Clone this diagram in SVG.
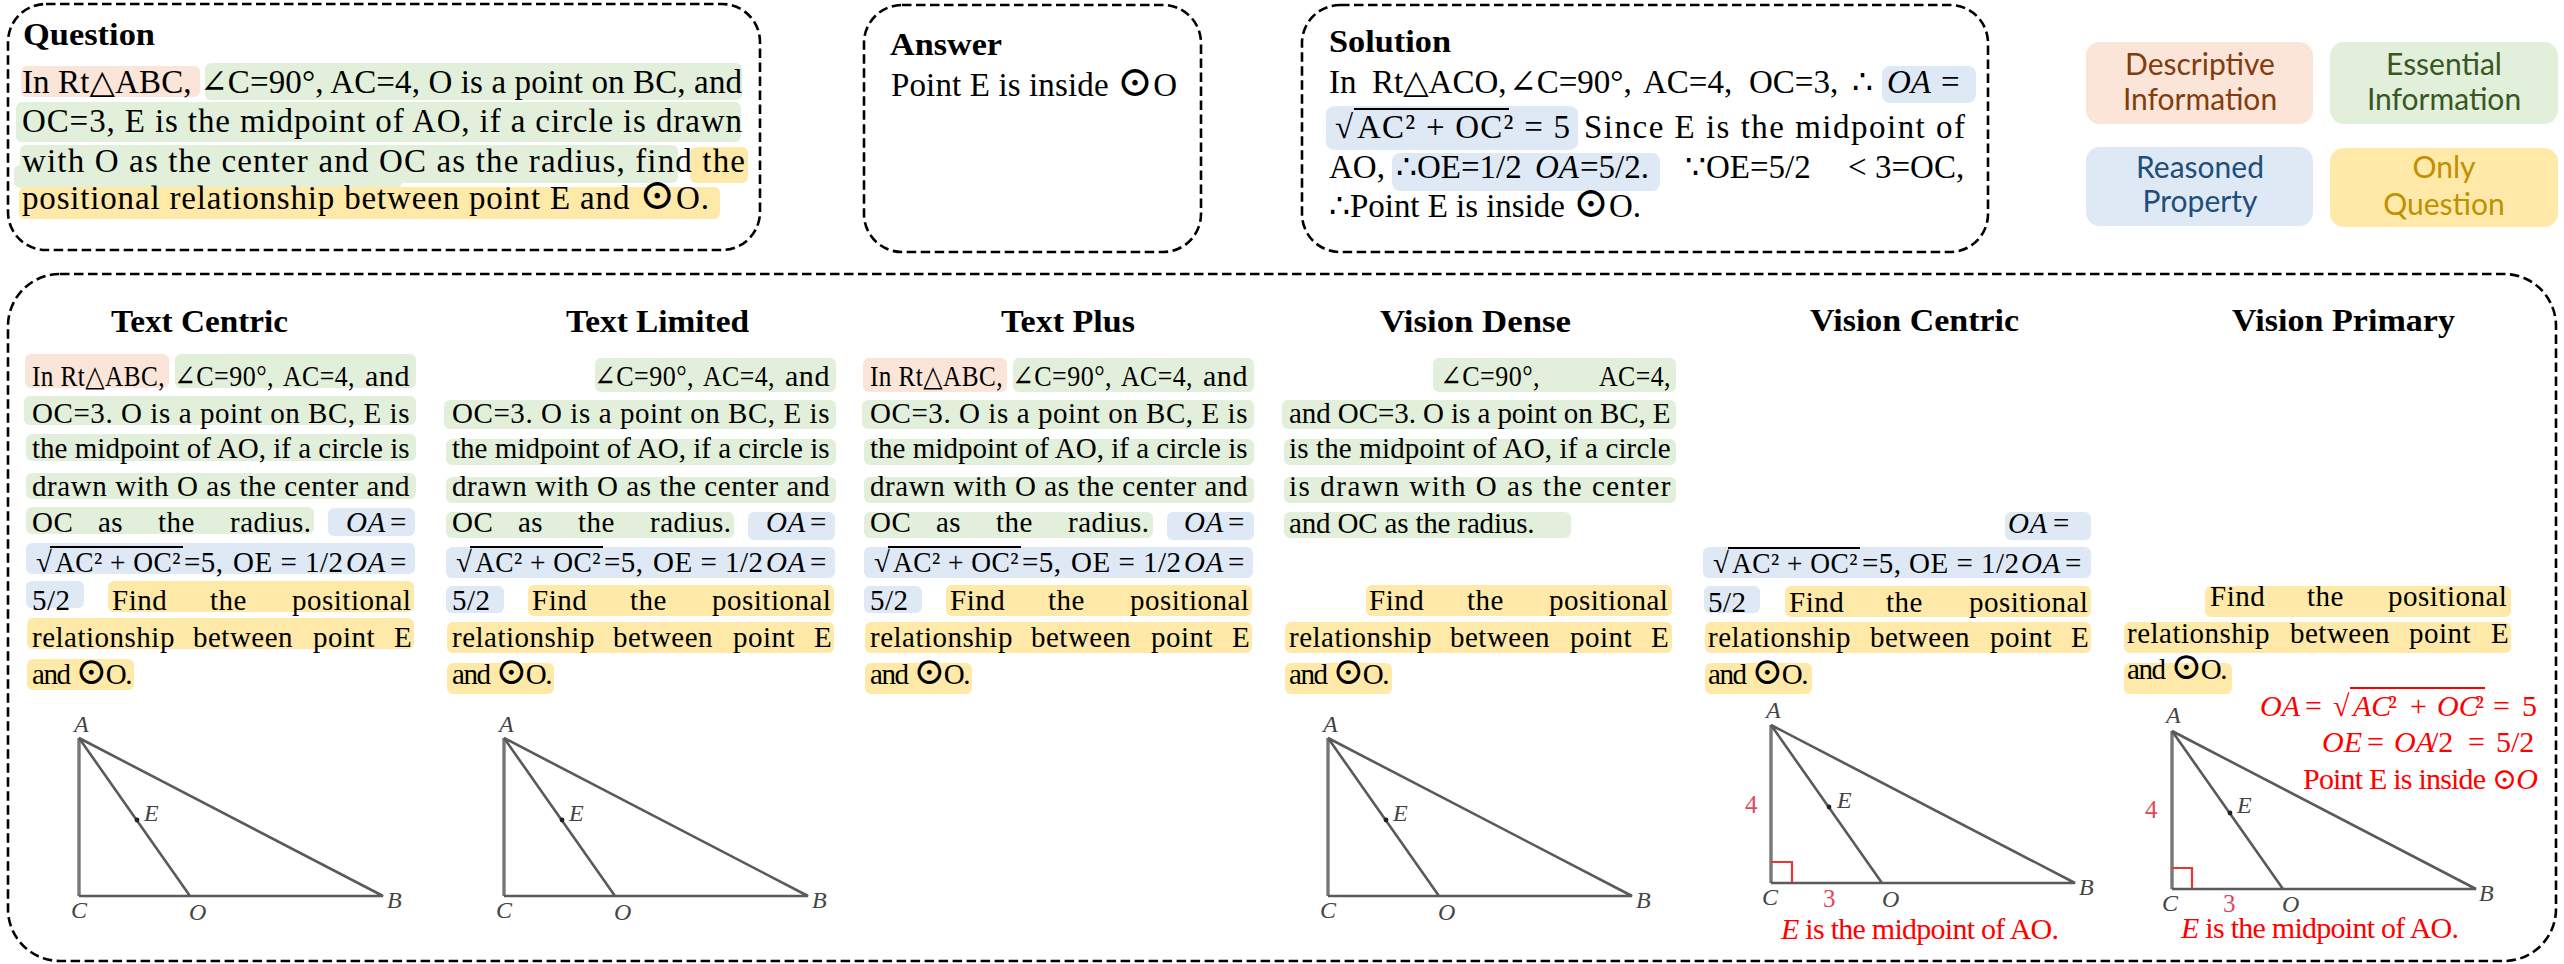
<svg xmlns="http://www.w3.org/2000/svg" width="2564" height="964" viewBox="0 0 2564 964">
<style>
text{font-family:"Liberation Serif","DejaVu Serif","DejaVu Sans",serif;fill:#000;white-space:pre}
.frame{fill:none;stroke:#000;stroke-width:2.6;stroke-dasharray:9.5 4.5}
.d{fill:#fbe4d8}.e{fill:#e2efda}.r{fill:#dee9f5}.q{fill:#fee9a9}
.head{font-size:32px;font-weight:bold}
.big{font-size:33px}
.t{font-size:29px;letter-spacing:.5px}
.i{font-style:italic}
.o{font-size:1.3em}
.leg{font-family:"Lato","Open Sans",sans-serif;font-size:30px;text-anchor:middle}
.lab{font-size:24px;font-style:italic;fill:#444}
.num{font-size:25px;fill:#e0475c}
.red,.red tspan{font-size:30px;fill:#f00}
.ac{stroke:#777;stroke-width:3.4;fill:none}
.tl{stroke:#5a5a5a;stroke-width:2.6;fill:none}
.ra{stroke:#e33;stroke-width:2.2;fill:none}
.bar{stroke:#000;stroke-width:2;fill:none}
.redbar{stroke:#f00;stroke-width:2;fill:none}
</style>
<defs>
<g id="triangle">
<path class="ac" d="M79 738V896"/>
<path class="tl" d="M79 896H383L79 738L190 896"/>
<circle cx="137" cy="820" r="2.4" fill="#222"/>
</g>
</defs>

<g id="question">
<rect class="frame" x="8" y="4" width="752" height="246" rx="38"/>
<rect class="d" x="21" y="66" width="179" height="31" rx="6"/>
<rect class="e" x="205" y="63" width="537" height="37" rx="6"/>
<rect class="e" x="16" y="102" width="725" height="40" rx="6"/>
<rect class="e" x="20" y="145" width="658" height="38" rx="6"/>
<rect class="e" x="14" y="165" width="388" height="23" rx="6"/>
<rect class="q" x="690" y="147" width="58" height="36" rx="6"/>
<rect class="q" x="19" y="187" width="701" height="32" rx="6"/>
<text class="head" x="23" y="45" textLength="132" lengthAdjust="spacingAndGlyphs">Question</text>
<text class="big" x="22" y="93" textLength="720">In Rt△ABC, ∠C=90°, AC=4, O is a point on BC, and</text>
<text class="big" x="22" y="132" textLength="720">OC=3, E is the midpoint of AO, if a circle is drawn</text>
<text class="big" x="22" y="172" textLength="723">with O as the center and OC as the radius, find the</text>
<text class="big" x="22" y="209" textLength="687">positional relationship between point E and <tspan class="o">⊙</tspan>O.</text>
</g>

<g id="answer">
<rect class="frame" x="864" y="5" width="337" height="247" rx="38"/>
<text class="head" x="890" y="55" textLength="112" lengthAdjust="spacingAndGlyphs">Answer</text>
<text class="big" x="891" y="96" textLength="286">Point E is inside <tspan class="o">⊙</tspan>O</text>
</g>

<g id="solution">
<rect class="frame" x="1302" y="5" width="686" height="247" rx="38"/>
<rect class="r" x="1882" y="66" width="94" height="37" rx="8"/>
<rect class="r" x="1326" y="106" width="252" height="44" rx="8"/>
<rect class="r" x="1392" y="153" width="268" height="38" rx="8"/>
<text class="head" x="1329" y="52" textLength="122" lengthAdjust="spacingAndGlyphs">Solution</text>
<text class="big" y="93"><tspan x="1329">In</tspan><tspan x="1372">Rt△ACO,</tspan><tspan x="1509">∠C=90°,</tspan><tspan x="1643">AC=4,</tspan><tspan x="1749">OC=3,</tspan><tspan x="1852">∴</tspan><tspan x="1887" class="i">OA</tspan><tspan x="1941">=</tspan></text>
<text class="big" x="1335" y="138">√</text>
<path class="bar" d="M1354 109H1509"/>
<text class="big" x="1357" y="138" textLength="213">AC² + OC² = 5</text>
<text class="big" x="1584" y="138" textLength="381">Since E is the midpoint of</text>
<text class="big" y="178"><tspan x="1329">AO,</tspan><tspan x="1396">∴OE=1/2</tspan><tspan x="1535" class="i">OA</tspan><tspan x="1580">=5/2.</tspan><tspan x="1685">∵OE=5/2</tspan><tspan x="1848">&lt;</tspan><tspan x="1875">3=OC,</tspan></text>
<text class="big" x="1329" y="217" textLength="312">∴Point E is inside <tspan class="o">⊙</tspan>O.</text>
</g>

<g id="legend-descriptive">
<rect class="d" x="2086" y="42" width="227" height="82" rx="14"/>
<text class="leg" x="2200" y="75" style="fill:#843c0c">Descriptive</text>
<text class="leg" x="2200" y="110" style="fill:#843c0c">Information</text>
</g>
<g id="legend-essential">
<rect class="e" x="2330" y="42" width="228" height="82" rx="14"/>
<text class="leg" x="2444" y="75" style="fill:#385723">Essential</text>
<text class="leg" x="2444" y="110" style="fill:#385723">Information</text>
</g>
<g id="legend-reasoned">
<rect class="r" x="2086" y="147" width="227" height="79" rx="14"/>
<text class="leg" x="2200" y="178" style="fill:#1f4e79">Reasoned</text>
<text class="leg" x="2200" y="212" style="fill:#1f4e79">Property</text>
</g>
<g id="legend-only">
<rect class="q" x="2330" y="148" width="228" height="79" rx="14"/>
<text class="leg" x="2444" y="178" style="fill:#bf9000">Only</text>
<text class="leg" x="2444" y="215" style="fill:#bf9000">Question</text>
</g>

<rect id="panel" class="frame" x="8" y="274" width="2548" height="687" rx="52"/>

<g id="text-centric">
<text class="head" x="111" y="332" textLength="177" lengthAdjust="spacingAndGlyphs">Text Centric</text>
<rect class="d" x="25" y="354" width="144" height="34" rx="6"/>
<rect class="e" x="175" y="354" width="241" height="34" rx="6"/>
<rect class="e" x="24" y="396" width="392" height="29" rx="6"/>
<rect class="e" x="26" y="434" width="390" height="27" rx="6"/>
<rect class="e" x="26" y="473" width="390" height="26" rx="6"/>
<rect class="e" x="26" y="507" width="288" height="27" rx="6"/>
<rect class="r" x="328" y="508" width="87" height="28" rx="6"/>
<rect class="r" x="26" y="543" width="389" height="31" rx="6"/>
<rect class="r" x="26" y="581" width="58" height="27" rx="6"/>
<rect class="q" x="108" y="581" width="306" height="31" rx="6"/>
<rect class="q" x="27" y="618" width="387" height="31" rx="6"/>
<rect class="q" x="27" y="659" width="107" height="31" rx="6"/>
<text class="t" x="32" y="386" textLength="133" lengthAdjust="spacingAndGlyphs">In Rt△ABC,</text>
<text class="t" x="174" y="386" textLength="100" lengthAdjust="spacingAndGlyphs">∠C=90°,</text>
<text class="t" x="283" y="386" textLength="72" lengthAdjust="spacingAndGlyphs">AC=4,</text>
<text class="t" x="365" y="386" textLength="45" lengthAdjust="spacingAndGlyphs">and</text>
<text class="t" x="32" y="423" textLength="378">OC=3. O is a point on BC, E is</text>
<text class="t" x="32" y="458" textLength="378">the midpoint of AO, if a circle is</text>
<text class="t" x="32" y="496" textLength="378">drawn with O as the center and</text>
<text class="t" y="532"><tspan x="32">OC</tspan><tspan x="98">as</tspan><tspan x="158">the</tspan><tspan x="230">radius.</tspan><tspan x="346" class="i">OA</tspan><tspan x="390">=</tspan></text>
<text class="t" x="36" y="572">√</text><path class="bar" d="M50 547H183"/>
<text class="t" x="55" y="572" textLength="126" lengthAdjust="spacingAndGlyphs">AC² + OC²</text>
<text class="t" y="572"><tspan x="184">=5,</tspan><tspan x="233">OE = 1/2</tspan><tspan x="346" class="i">OA</tspan><tspan x="390">=</tspan></text>
<text class="t" y="610"><tspan x="32">5/2</tspan><tspan x="112">Find</tspan><tspan x="210">the</tspan><tspan x="292">positional</tspan></text>
<text class="t" y="647"><tspan x="32">relationship</tspan><tspan x="193">between</tspan><tspan x="313">point</tspan><tspan x="394">E</tspan></text>
<text class="t" x="32" y="684" textLength="101">and <tspan class="o">⊙</tspan>O.</text>
<use href="#triangle"/>
<text class="lab" x="74" y="732">A</text><text class="lab" x="71" y="918">C</text><text class="lab" x="189" y="920">O</text><text class="lab" x="387" y="908">B</text><text class="lab" x="144" y="821">E</text>
</g>

<g id="text-limited">
<text class="head" x="566" y="332" textLength="183" lengthAdjust="spacingAndGlyphs">Text Limited</text>
<rect class="e" x="595" y="358" width="241" height="34" rx="6"/>
<rect class="e" x="444" y="400" width="392" height="29" rx="6"/>
<rect class="e" x="446" y="439" width="390" height="26" rx="6"/>
<rect class="e" x="446" y="477" width="390" height="26" rx="6"/>
<rect class="e" x="446" y="512" width="288" height="26" rx="6"/>
<rect class="r" x="748" y="512" width="87" height="28" rx="6"/>
<rect class="r" x="446" y="547" width="389" height="31" rx="6"/>
<rect class="r" x="446" y="586" width="58" height="27" rx="6"/>
<rect class="q" x="528" y="585" width="306" height="31" rx="6"/>
<rect class="q" x="447" y="622" width="387" height="31" rx="6"/>
<rect class="q" x="447" y="663" width="107" height="31" rx="6"/>
<text class="t" x="594" y="386" textLength="100" lengthAdjust="spacingAndGlyphs">∠C=90°,</text>
<text class="t" x="703" y="386" textLength="72" lengthAdjust="spacingAndGlyphs">AC=4,</text>
<text class="t" x="785" y="386" textLength="45" lengthAdjust="spacingAndGlyphs">and</text>
<text class="t" x="452" y="423" textLength="378">OC=3. O is a point on BC, E is</text>
<text class="t" x="452" y="458" textLength="378">the midpoint of AO, if a circle is</text>
<text class="t" x="452" y="496" textLength="378">drawn with O as the center and</text>
<text class="t" y="532"><tspan x="452">OC</tspan><tspan x="518">as</tspan><tspan x="578">the</tspan><tspan x="650">radius.</tspan><tspan x="766" class="i">OA</tspan><tspan x="810">=</tspan></text>
<text class="t" x="456" y="572">√</text><path class="bar" d="M470 547H603"/>
<text class="t" x="475" y="572" textLength="126" lengthAdjust="spacingAndGlyphs">AC² + OC²</text>
<text class="t" y="572"><tspan x="604">=5,</tspan><tspan x="653">OE = 1/2</tspan><tspan x="766" class="i">OA</tspan><tspan x="810">=</tspan></text>
<text class="t" y="610"><tspan x="452">5/2</tspan><tspan x="532">Find</tspan><tspan x="630">the</tspan><tspan x="712">positional</tspan></text>
<text class="t" y="647"><tspan x="452">relationship</tspan><tspan x="613">between</tspan><tspan x="733">point</tspan><tspan x="814">E</tspan></text>
<text class="t" x="452" y="684" textLength="101">and <tspan class="o">⊙</tspan>O.</text>
<use href="#triangle" x="425"/>
<text class="lab" x="499" y="732">A</text><text class="lab" x="496" y="918">C</text><text class="lab" x="614" y="920">O</text><text class="lab" x="812" y="908">B</text><text class="lab" x="569" y="821">E</text>
</g>

<g id="text-plus">
<text class="head" x="1001" y="332" textLength="134" lengthAdjust="spacingAndGlyphs">Text Plus</text>
<rect class="d" x="863" y="358" width="144" height="34" rx="6"/>
<rect class="e" x="1013" y="358" width="241" height="34" rx="6"/>
<rect class="e" x="862" y="400" width="392" height="29" rx="6"/>
<rect class="e" x="864" y="439" width="390" height="26" rx="6"/>
<rect class="e" x="864" y="477" width="390" height="26" rx="6"/>
<rect class="e" x="864" y="512" width="289" height="26" rx="6"/>
<rect class="r" x="1167" y="512" width="87" height="28" rx="6"/>
<rect class="r" x="864" y="547" width="389" height="31" rx="6"/>
<rect class="r" x="864" y="586" width="58" height="27" rx="6"/>
<rect class="q" x="946" y="585" width="306" height="31" rx="6"/>
<rect class="q" x="865" y="622" width="387" height="31" rx="6"/>
<rect class="q" x="865" y="663" width="107" height="31" rx="6"/>
<text class="t" x="870" y="386" textLength="133" lengthAdjust="spacingAndGlyphs">In Rt△ABC,</text>
<text class="t" x="1012" y="386" textLength="100" lengthAdjust="spacingAndGlyphs">∠C=90°,</text>
<text class="t" x="1121" y="386" textLength="72" lengthAdjust="spacingAndGlyphs">AC=4,</text>
<text class="t" x="1203" y="386" textLength="45" lengthAdjust="spacingAndGlyphs">and</text>
<text class="t" x="870" y="423" textLength="378">OC=3. O is a point on BC, E is</text>
<text class="t" x="870" y="458" textLength="378">the midpoint of AO, if a circle is</text>
<text class="t" x="870" y="496" textLength="378">drawn with O as the center and</text>
<text class="t" y="532"><tspan x="870">OC</tspan><tspan x="936">as</tspan><tspan x="996">the</tspan><tspan x="1068">radius.</tspan><tspan x="1184" class="i">OA</tspan><tspan x="1228">=</tspan></text>
<text class="t" x="874" y="572">√</text><path class="bar" d="M888 547H1021"/>
<text class="t" x="893" y="572" textLength="126" lengthAdjust="spacingAndGlyphs">AC² + OC²</text>
<text class="t" y="572"><tspan x="1022">=5,</tspan><tspan x="1071">OE = 1/2</tspan><tspan x="1184" class="i">OA</tspan><tspan x="1228">=</tspan></text>
<text class="t" y="610"><tspan x="870">5/2</tspan><tspan x="950">Find</tspan><tspan x="1048">the</tspan><tspan x="1130">positional</tspan></text>
<text class="t" y="647"><tspan x="870">relationship</tspan><tspan x="1031">between</tspan><tspan x="1151">point</tspan><tspan x="1232">E</tspan></text>
<text class="t" x="870" y="684" textLength="101">and <tspan class="o">⊙</tspan>O.</text>
</g>

<g id="vision-dense">
<text class="head" x="1380" y="332" textLength="191" lengthAdjust="spacingAndGlyphs">Vision Dense</text>
<rect class="e" x="1433" y="358" width="243" height="34" rx="6"/>
<rect class="e" x="1282" y="400" width="394" height="29" rx="6"/>
<rect class="e" x="1284" y="439" width="392" height="26" rx="6"/>
<rect class="e" x="1284" y="477" width="392" height="26" rx="6"/>
<rect class="e" x="1284" y="512" width="287" height="26" rx="6"/>
<rect class="q" x="1366" y="585" width="306" height="31" rx="6"/>
<rect class="q" x="1285" y="622" width="387" height="31" rx="6"/>
<rect class="q" x="1285" y="663" width="107" height="31" rx="6"/>
<text class="t" x="1440" y="386" textLength="100" lengthAdjust="spacingAndGlyphs">∠C=90°,</text>
<text class="t" x="1599" y="386" textLength="72" lengthAdjust="spacingAndGlyphs">AC=4,</text>
<text class="t" x="1289" y="423" textLength="382">and OC=3. O is a point on BC, E</text>
<text class="t" x="1289" y="458" textLength="382">is the midpoint of AO, if a circle</text>
<text class="t" x="1289" y="496" textLength="382">is drawn with O as the center</text>
<text class="t" x="1289" y="533" textLength="246">and OC as the radius.</text>
<text class="t" y="610"><tspan x="1369">Find</tspan><tspan x="1467">the</tspan><tspan x="1549">positional</tspan></text>
<text class="t" y="647"><tspan x="1289">relationship</tspan><tspan x="1450">between</tspan><tspan x="1570">point</tspan><tspan x="1651">E</tspan></text>
<text class="t" x="1289" y="684" textLength="101">and <tspan class="o">⊙</tspan>O.</text>
<use href="#triangle" x="1249"/>
<text class="lab" x="1323" y="732">A</text><text class="lab" x="1320" y="918">C</text><text class="lab" x="1438" y="920">O</text><text class="lab" x="1636" y="908">B</text><text class="lab" x="1393" y="821">E</text>
</g>

<g id="vision-centric">
<text class="head" x="1810" y="331" textLength="209" lengthAdjust="spacingAndGlyphs">Vision Centric</text>
<rect class="r" x="2005" y="512" width="86" height="28" rx="6"/>
<rect class="r" x="1703" y="547" width="388" height="31" rx="6"/>
<rect class="r" x="1704" y="586" width="56" height="27" rx="6"/>
<rect class="q" x="1785" y="586" width="306" height="31" rx="6"/>
<rect class="q" x="1705" y="622" width="386" height="31" rx="6"/>
<rect class="q" x="1705" y="663" width="107" height="31" rx="6"/>
<text class="t" y="533"><tspan x="2008" class="i">OA</tspan><tspan x="2053">=</tspan></text>
<text class="t" x="1713" y="573">√</text><path class="bar" d="M1728 548H1860"/>
<text class="t" x="1732" y="573" textLength="126" lengthAdjust="spacingAndGlyphs">AC² + OC²</text>
<text class="t" y="573"><tspan x="1862">=5,</tspan><tspan x="1909">OE = 1/2</tspan><tspan x="2021" class="i">OA</tspan><tspan x="2065">=</tspan></text>
<text class="t" y="612"><tspan x="1708">5/2</tspan><tspan x="1789">Find</tspan><tspan x="1886">the</tspan><tspan x="1969">positional</tspan></text>
<text class="t" y="647"><tspan x="1708">relationship</tspan><tspan x="1870">between</tspan><tspan x="1990">point</tspan><tspan x="2071">E</tspan></text>
<text class="t" x="1708" y="684" textLength="101">and <tspan class="o">⊙</tspan>O.</text>
<use href="#triangle" x="1692" y="-13"/>
<path class="ra" d="M1771 862H1792V882"/>
<text class="lab" x="1766" y="718">A</text><text class="lab" x="1762" y="905">C</text><text class="lab" x="1882" y="907">O</text><text class="lab" x="2079" y="895">B</text><text class="lab" x="1837" y="808">E</text>
<text class="num" x="1745" y="813">4</text><text class="num" x="1823" y="907">3</text>
<text class="red" x="1781" y="939" textLength="278"><tspan class="i">E</tspan> is the midpoint of AO.</text>
</g>

<g id="vision-primary">
<text class="head" x="2232" y="331" textLength="223" lengthAdjust="spacingAndGlyphs">Vision Primary</text>
<rect class="q" x="2205" y="586" width="306" height="31" rx="6"/>
<rect class="q" x="2124" y="622" width="387" height="31" rx="6"/>
<rect class="q" x="2124" y="663" width="108" height="31" rx="6"/>
<text class="t" y="606"><tspan x="2210">Find</tspan><tspan x="2307">the</tspan><tspan x="2388">positional</tspan></text>
<text class="t" y="643"><tspan x="2127">relationship</tspan><tspan x="2290">between</tspan><tspan x="2409">point</tspan><tspan x="2491">E</tspan></text>
<text class="t" x="2127" y="679" textLength="101">and <tspan class="o">⊙</tspan>O.</text>
<use href="#triangle" x="2093" y="-7"/>
<path class="ra" d="M2172 868H2192V888"/>
<text class="lab" x="2166" y="723">A</text><text class="lab" x="2162" y="911">C</text><text class="lab" x="2282" y="912">O</text><text class="lab" x="2479" y="901">B</text><text class="lab" x="2237" y="813">E</text>
<text class="num" x="2145" y="818">4</text><text class="num" x="2223" y="912">3</text>
<text class="red" x="2181" y="938" textLength="278"><tspan class="i">E</tspan> is the midpoint of AO.</text>
<text class="red" y="716"><tspan x="2260" class="i">OA</tspan><tspan x="2305">=</tspan><tspan x="2333">√</tspan><tspan x="2353" class="i">AC</tspan><tspan x="2388">²</tspan><tspan x="2410">+</tspan><tspan x="2437" class="i">OC</tspan><tspan x="2475">²</tspan><tspan x="2493">=</tspan><tspan x="2522">5</tspan></text>
<path class="redbar" d="M2350 688H2485"/>
<text class="red" y="752"><tspan x="2322" class="i">OE</tspan><tspan x="2367">=</tspan><tspan x="2394" class="i">OA</tspan><tspan x="2430">/2</tspan><tspan x="2468">=</tspan><tspan x="2496">5/2</tspan></text>
<text class="red" x="2303" y="789" textLength="235">Point E is inside <tspan class="o">⊙</tspan><tspan class="i">O</tspan></text>
</g>
</svg>
